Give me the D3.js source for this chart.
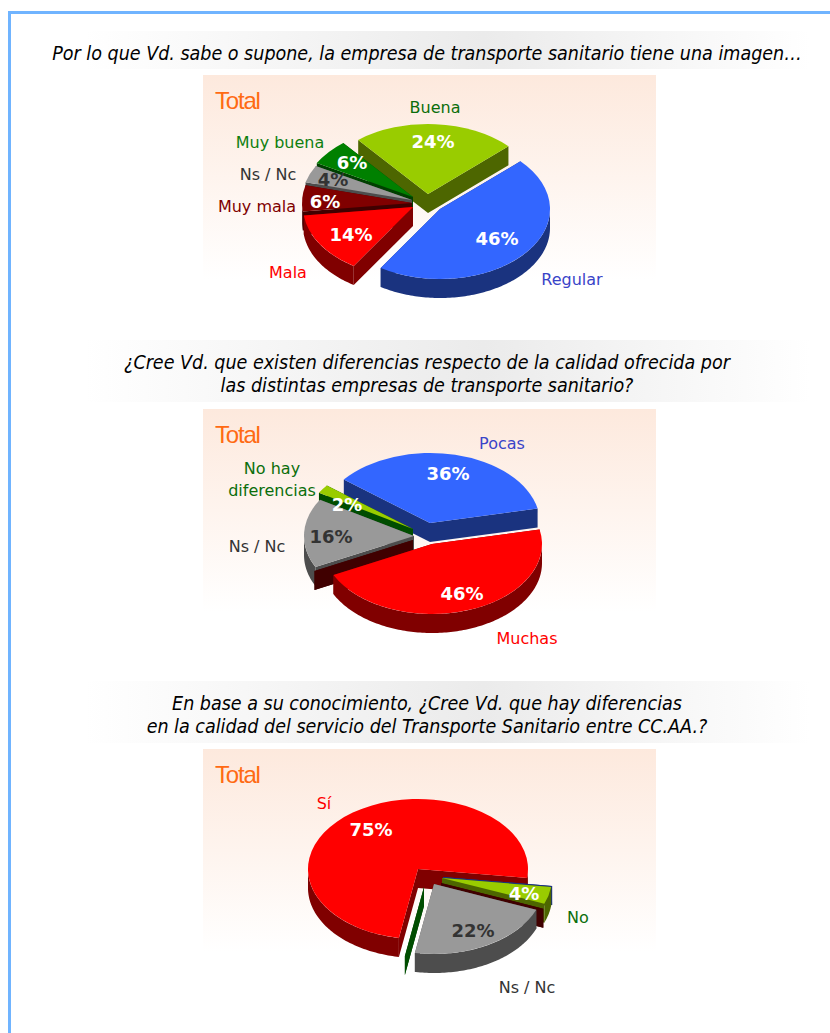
<!DOCTYPE html>
<html><head><meta charset="utf-8">
<script src="https://cdn.jsdelivr.net/npm/d3@7/dist/d3.min.js"></script>
<style>html,body{margin:0;padding:0;background:#fff;overflow:hidden}svg{display:block}</style>
</head><body>
<svg id="c" width="830" height="1033"></svg>
<script>
// ---- data ----
const categories1 = ["Regular","Mala","Muy mala","Ns / Nc","Muy buena","Buena"];
const values1 = [46,14,6,4,6,24];
const categories2 = ["Muchas","","Ns / Nc","No hay|diferencias","Pocas"];
const values2 = [46,0,16,2,36];
const categories3 = ["Sí","","No","","Ns / Nc",""];
const values3 = [75,0,4,0,22,0];
const questions1 = ["Por lo que Vd. sabe o supone, la empresa de transporte sanitario tiene una imagen…"];
const questions2 = ["¿Cree Vd. que existen diferencias respecto de la calidad ofrecida por","las distintas empresas de transporte sanitario?"];
const questions3 = ["En base a su conocimiento, ¿Cree Vd. que hay diferencias","en la calidad del servicio del Transporte Sanitario entre CC.AA.?"];

// ---- styles and layout ----
const C = {
  blue:["#3366ff","#1a337f"], red:["#ff0000","#800000"], maroon:["#800000","#400000"],
  grey:["#999999","#4d4d4d"], green:["#008000","#004000"], lime:["#99cc00","#4d6600"], dgreen:["#004d00","#004d00"],
  limeDark:["#99cc00","#004d00"]
};
const TXT = {blue:"#3a44c8",red:"#ff0000",maroon:"#800000",grey:"#333333",green:"#0f7f0f",lime:"#0b6e0b",dgreen:"#0f7f0f",limeDark:"#0b6e0b"};
const RX=110, RY=70, DEPTH=19;
const charts = [
 {cats:categories1, vals:values1, start:47, cx:413, cy:200,
  colors:["blue","red","maroon","grey","green","lime"],
  offs:[[27,9],[0,7],[-1,3],[-1,0],[0,-3],[15,-6]],
  order:[5,4,3,2,1,0],
  catPos:[[572,279],[288,272],[257,206],[268,174],[280,142],[435,107]],
  valPos:[[497,238],[351,234],[325,201],[333,179],[352,162],[433,141]],
  panel:[75,280], band:[31,69], qY:[53]},
 {cats:categories2, vals:values2, start:78, cx:414, cy:536,
  colors:["red","maroon","grey","limeDark","blue"],
  offs:[[18,8],[-1,4],[0,0],[-1,-7],[16,-13]],
  order:[4,3,2,1,0],
  catPos:[[527,638],null,[257,546],[272,468],[502,443]],
  valPos:[[462,593],null,[331,536],[347,504],[448,473]],
  panel:[409,612], band:[340,402], qY:[362,385]},
 {cats:categories3, vals:values3, start:190, cx:418, cy:869,
  colors:["red","blue","lime","maroon","grey","dgreen"],
  offs:[[0,0],[25,8],[24,9],[23,14],[16,15],[6,18]],
  order:[0,1,2,3,4,5],
  catPos:[[324,803],null,[578,917],null,[527,987],null],
  valPos:[[371,829],null,[524,893],null,[473,930],null],
  panel:[749,952], band:[681,743], qY:[703,726]}
];
const questions=[questions1,questions2,questions3];
const lightOnDark = {grey:"#333333"};

const svg=d3.select("#c");
const defs=svg.append("defs");
const pg=defs.append("linearGradient").attr("id","pg").attr("x1",0).attr("x2",0).attr("y1",0).attr("y2",1);
pg.append("stop").attr("offset",0).attr("stop-color","#fde9dd");
pg.append("stop").attr("offset",1).attr("stop-color","#ffffff");
const bg=defs.append("linearGradient").attr("id","bg");
bg.append("stop").attr("offset",0).attr("stop-color","#ffffff");
bg.append("stop").attr("offset",.55).attr("stop-color","#ebebeb");
bg.append("stop").attr("offset",1).attr("stop-color","#ffffff");

// frame
svg.append("path").attr("d","M9.5,1033V12.5H830").attr("fill","none").attr("stroke","#70b4ff").attr("stroke-width",3);

const TAU=Math.PI*2;
const arcGen=d3.arc().innerRadius(0).outerRadius(RX);
const px=(a,dx)=>dx+RX*Math.sin(a), py=(a,dy)=>dy-RY*Math.cos(a);
const line=d3.line();

charts.forEach((ch,ci)=>{
  svg.append("rect").attr("x",85).attr("width",725).attr("y",ch.band[0]).attr("height",ch.band[1]-ch.band[0]).attr("fill","url(#bg)");
  questions[ci].forEach((q,i)=>{
    svg.append("text").attr("x",427).attr("y",ch.qY[i]).attr("dominant-baseline","central").attr("text-anchor","middle")
      .attr("font-family","'DejaVu Sans Condensed','DejaVu Sans'").attr("font-style","italic").attr("font-stretch","condensed").attr("font-size",19.5).attr("fill","#000").text(q);
  });
  svg.append("rect").attr("x",203).attr("width",453).attr("y",ch.panel[0]).attr("height",ch.panel[1]-ch.panel[0]).attr("fill","url(#pg)");
  svg.append("text").attr("x",215).attr("y",ch.panel[0]+34).attr("font-family","'Liberation Sans'").attr("font-size",24).attr("letter-spacing",-1.2).attr("fill","#ff6a13").text("Total");

  const s=ch.start*Math.PI/180;
  const arcs=d3.pie().sort(null).startAngle(s).endAngle(s+TAU)(ch.vals);
  ch.order.forEach(i=>{
    const a=arcs[i], c=C[ch.colors[i]], dx=ch.cx+ch.offs[i][0], dy=ch.cy+ch.offs[i][1];
    const g=svg.append("g");
    // radial walls
    [a.startAngle,a.endAngle].forEach(t=>{
      g.append("path").attr("fill",c[1]).attr("d",line([[dx,dy],[px(t,dx),py(t,dy)],[px(t,dx),py(t,dy)+DEPTH],[dx,dy+DEPTH]])+"Z");
    });
    // outer wall, only where the rim faces the viewer
    [0,1].forEach(k=>{
      const lo=Math.max(a.startAngle,Math.PI/2+TAU*k), hi=Math.min(a.endAngle,Math.PI*1.5+TAU*k);
      if(hi>lo){
        const ts=d3.range(lo,hi,.02).concat([hi]);
        const top=ts.map(t=>[px(t,dx),py(t,dy)]), bot=ts.slice().reverse().map(t=>[px(t,dx),py(t,dy)+DEPTH]);
        g.append("path").attr("fill",c[1]).attr("d",line(top.concat(bot))+"Z");
      }
    });
    // top face
    if(a.value>0){
      g.append("path").attr("fill",c[0]).attr("transform",`translate(${dx},${dy}) scale(1,${RY/RX})`)
        .attr("d",arcGen({startAngle:a.startAngle,endAngle:a.endAngle}));
    }
  });
  // labels
  ch.cats.forEach((name,i)=>{
    if(!ch.catPos[i])return;
    const col=ch.colors[i], parts=name.split("|");
    parts.forEach((p,j)=>{
      svg.append("text").attr("x",ch.catPos[i][0]).attr("y",ch.catPos[i][1]+j*22).attr("text-anchor","middle").attr("dominant-baseline","central")
        .attr("font-family","'DejaVu Sans'").attr("font-size",16).attr("fill",TXT[col]).text(p);
    });
    svg.append("text").attr("x",ch.valPos[i][0]).attr("y",ch.valPos[i][1]).attr("text-anchor","middle").attr("dominant-baseline","central")
      .attr("font-family","'DejaVu Sans'").attr("font-weight","bold").attr("font-size",18)
      .attr("fill",lightOnDark[col]||"#fff").text(ch.vals[i]+"%");
  });
});
</script>
</body></html>
